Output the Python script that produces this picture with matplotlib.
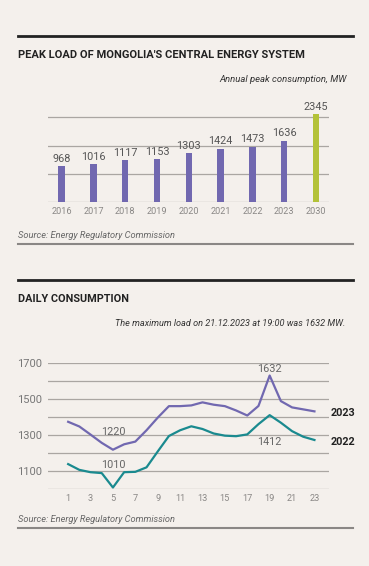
import numpy as np
import matplotlib.pyplot as plt
from matplotlib.lines import Line2D

plt.rcParams['font.family'] = ['Roboto', 'DejaVu Sans']

# Data
years = ['2016', '2017', '2018', '2019', '2020', '2021', '2022', '2023', '2030']
peak = [968, 1016, 1117, 1153, 1303, 1424, 1473, 1636, 2345]

hours = list(range(1, 24))
load_2023 = [1375, 1349, 1304, 1258, 1220, 1250, 1265, 1328, 1398, 1462, 1462, 1466,
             1483, 1470, 1462, 1438, 1410, 1463, 1632, 1490, 1455, 1444, 1433]
load_2022 = [1140, 1108, 1095, 1090, 1010, 1095, 1097, 1122, 1210, 1296, 1328, 1350,
             1335, 1310, 1298, 1295, 1305, 1362, 1412, 1370, 1323, 1292, 1274]

BG = '#f4f0ec'
PURPLE = '#7168b0'
TEAL = '#1a8a8f'
GREEN = '#b3c238'
GRID = '#aaa6a2'

W, H = 369, 566
fig = plt.figure(figsize=(W / 100, H / 100), dpi=100, facecolor=BG)


def fx(px):
    return px / W


def fy(py):
    return 1 - py / H


def rule(y, color, lw):
    fig.add_artist(Line2D([fx(18), fx(353)], [fy(y), fy(y)], color=color, lw=lw,
                          transform=fig.transFigure))


# ---- top section: bars ----
rule(36, '#222222', 2.0)
fig.text(fx(18), fy(55), "PEAK LOAD OF MONGOLIA'S CENTRAL ENERGY SYSTEM",
         fontsize=8.0, fontweight='bold', color='#222222', va='center')
fig.text(fx(347), fy(79), 'Annual peak consumption, MW', fontsize=6.8,
         style='italic', color='#333333', ha='right', va='center')

ax1 = fig.add_axes([fx(48), fy(202.3), fx(281), 94.3 / H])
ax1.set_facecolor(BG)
x = np.arange(len(years))
colors = [PURPLE] * (len(years) - 1) + [GREEN]
ax1.bar(x, peak, width=0.2, color=colors, zorder=3)
ax1.set_xlim(-0.43, len(years) - 1 + 0.41)
ax1.set_ylim(0, 2500)
ax1.set_yticks([0, 750, 1500, 2250])
ax1.yaxis.grid(True, color=GRID, lw=0.9)
ax1.set_yticklabels([])
ax1.set_xticks(x)
ax1.set_xticklabels(years, fontsize=6.6, color='#8a8886')
ax1.tick_params(length=0, pad=3.5)
for s in ax1.spines.values():
    s.set_visible(False)
for xi, v in zip(x, peak):
    ax1.text(xi, v + 60, str(v), ha='center', va='bottom', fontsize=7.8,
             color='#555555')

fig.text(fx(18), fy(235.5), 'Source: Energy Regulatory Commission', fontsize=6.7,
         style='italic', color='#666666', va='center')
rule(244, '#8a8785', 1.5)

# ---- bottom section: lines ----
rule(280, '#222222', 2.0)
fig.text(fx(18), fy(299), 'DAILY CONSUMPTION', fontsize=7.8, fontweight='bold',
         color='#222222', va='center')
fig.text(fx(345), fy(323), 'The maximum load on 21.12.2023 at 19:00 was 1632 MW.',
         fontsize=6.6, style='italic', color='#333333', ha='right', va='center')

ax2 = fig.add_axes([fx(48), fy(489.3), fx(281), 126 / H])
ax2.set_facecolor(BG)
ax2.plot(hours, load_2023, color=PURPLE, lw=1.6, zorder=3, clip_on=False)
ax2.plot(hours, load_2022, color=TEAL, lw=1.6, zorder=3, clip_on=False)
ax2.set_xlim(-0.8, 24.3)
ax2.set_ylim(1000, 1700)
yt = list(range(1000, 1800, 100))
ax2.set_yticks(yt)
ax2.set_yticklabels([str(v) if v in (1100, 1300, 1500, 1700) else '' for v in yt],
                    fontsize=8, color='#777777')
ax2.yaxis.grid(True, color=GRID, lw=0.9)
ax2.set_xticks(hours[::2])
ax2.set_xticklabels([str(h) for h in hours[::2]], fontsize=6.6, color='#8a8886')
ax2.tick_params(axis='x', length=0, pad=3.5)
ax2.tick_params(axis='y', length=0, pad=4)
for s in ax2.spines.values():
    s.set_visible(False)

# annotations
i_min = 4
i_max = 18
ax2.annotate(str(load_2023[i_min]), (hours[i_min], load_2023[i_min]), xytext=(0, 13),
             textcoords='offset points', ha='center', va='center', fontsize=7.8,
             color='#666666')
ax2.annotate(str(load_2022[i_min]), (hours[i_min], load_2022[i_min]), xytext=(0, 16),
             textcoords='offset points', ha='center', va='center', fontsize=7.8,
             color='#666666')
ax2.annotate(str(load_2023[i_max]), (hours[i_max], load_2023[i_max]), xytext=(0, 5),
             textcoords='offset points', ha='center', va='center', fontsize=7.8,
             color='#666666')
ax2.annotate(str(load_2022[i_max]), (hours[i_max], load_2022[i_max]), xytext=(0, -19),
             textcoords='offset points', ha='center', va='center', fontsize=7.8,
             color='#666666')
ax2.text(1.005, 1423, '2023', transform=ax2.get_yaxis_transform(), fontsize=7.8,
         fontweight='bold', color='#222222', va='center', ha='left')
ax2.text(1.005, 1265, '2022', transform=ax2.get_yaxis_transform(), fontsize=7.8,
         fontweight='bold', color='#222222', va='center', ha='left')

fig.text(fx(18), fy(519.5), 'Source: Energy Regulatory Commission', fontsize=6.7,
         style='italic', color='#666666', va='center')
rule(527.5, '#8a8785', 1.5)

fig.savefig('out.png', dpi=100, facecolor=BG)
